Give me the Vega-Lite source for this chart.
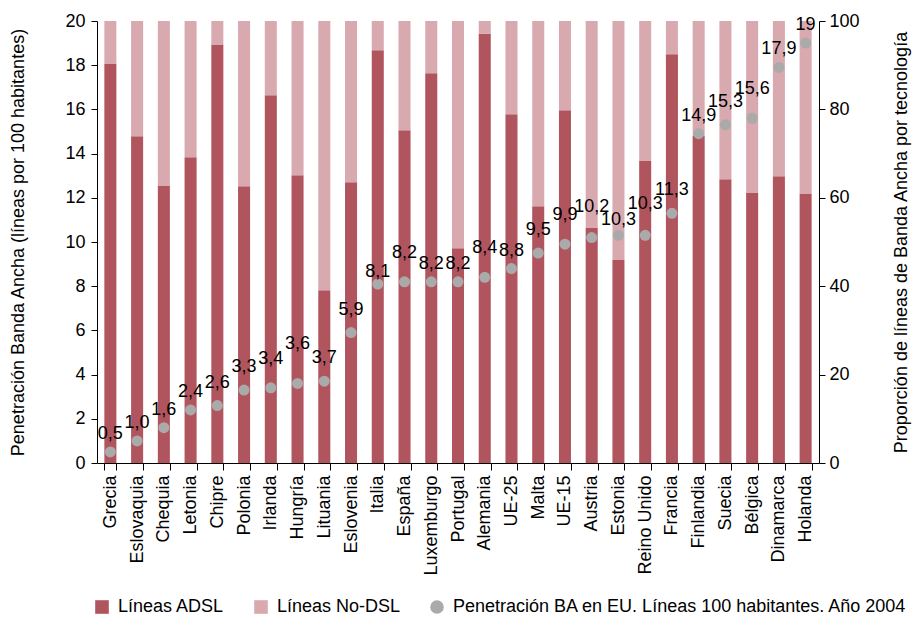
{
  "$schema": "https://vega.github.io/schema/vega-lite/v6.json",
  "autosize": {"type": "none"},
  "padding": {"left": 97, "top": 21, "right": 94, "bottom": 155},
  "width": 722,
  "height": 442,
  "background": "white",
  "config": {
    "font": "Liberation Sans",
    "view": {"stroke": null},
    "axis": {
      "labelFont": "Liberation Sans",
      "labelFontSize": 18,
      "labelColor": "black",
      "titleFont": "Liberation Sans",
      "titleFontSize": 18,
      "titleFontWeight": "normal",
      "titleColor": "black",
      "domainColor": "black",
      "tickColor": "black",
      "grid": false
    },
    "legend": {
      "labelFont": "Liberation Sans",
      "labelFontSize": 18,
      "labelColor": "black"
    }
  },
  "datasets": {
    "barras": [
      {"pais": "Grecia", "serie": "Líneas ADSL", "valor": 90.4},
      {"pais": "Grecia", "serie": "Líneas No-DSL", "valor": 9.6},
      {"pais": "Eslovaquia", "serie": "Líneas ADSL", "valor": 73.9},
      {"pais": "Eslovaquia", "serie": "Líneas No-DSL", "valor": 26.1},
      {"pais": "Chequia", "serie": "Líneas ADSL", "valor": 62.8},
      {"pais": "Chequia", "serie": "Líneas No-DSL", "valor": 37.2},
      {"pais": "Letonia", "serie": "Líneas ADSL", "valor": 69.2},
      {"pais": "Letonia", "serie": "Líneas No-DSL", "valor": 30.8},
      {"pais": "Chipre", "serie": "Líneas ADSL", "valor": 94.7},
      {"pais": "Chipre", "serie": "Líneas No-DSL", "valor": 5.3},
      {"pais": "Polonia", "serie": "Líneas ADSL", "valor": 62.6},
      {"pais": "Polonia", "serie": "Líneas No-DSL", "valor": 37.4},
      {"pais": "Irlanda", "serie": "Líneas ADSL", "valor": 83.2},
      {"pais": "Irlanda", "serie": "Líneas No-DSL", "valor": 16.8},
      {"pais": "Hungría", "serie": "Líneas ADSL", "valor": 65.1},
      {"pais": "Hungría", "serie": "Líneas No-DSL", "valor": 34.9},
      {"pais": "Lituania", "serie": "Líneas ADSL", "valor": 39.1},
      {"pais": "Lituania", "serie": "Líneas No-DSL", "valor": 60.9},
      {"pais": "Eslovenia", "serie": "Líneas ADSL", "valor": 63.5},
      {"pais": "Eslovenia", "serie": "Líneas No-DSL", "valor": 36.5},
      {"pais": "Italia", "serie": "Líneas ADSL", "valor": 93.4},
      {"pais": "Italia", "serie": "Líneas No-DSL", "valor": 6.6},
      {"pais": "España", "serie": "Líneas ADSL", "valor": 75.3},
      {"pais": "España", "serie": "Líneas No-DSL", "valor": 24.7},
      {"pais": "Luxemburgo", "serie": "Líneas ADSL", "valor": 88.2},
      {"pais": "Luxemburgo", "serie": "Líneas No-DSL", "valor": 11.8},
      {"pais": "Portugal", "serie": "Líneas ADSL", "valor": 48.6},
      {"pais": "Portugal", "serie": "Líneas No-DSL", "valor": 51.4},
      {"pais": "Alemania", "serie": "Líneas ADSL", "valor": 97.1},
      {"pais": "Alemania", "serie": "Líneas No-DSL", "valor": 2.9},
      {"pais": "UE-25", "serie": "Líneas ADSL", "valor": 78.9},
      {"pais": "UE-25", "serie": "Líneas No-DSL", "valor": 21.1},
      {"pais": "Malta", "serie": "Líneas ADSL", "valor": 58.1},
      {"pais": "Malta", "serie": "Líneas No-DSL", "valor": 41.9},
      {"pais": "UE-15", "serie": "Líneas ADSL", "valor": 79.8},
      {"pais": "UE-15", "serie": "Líneas No-DSL", "valor": 20.2},
      {"pais": "Austria", "serie": "Líneas ADSL", "valor": 53.3},
      {"pais": "Austria", "serie": "Líneas No-DSL", "valor": 46.7},
      {"pais": "Estonia", "serie": "Líneas ADSL", "valor": 45.9},
      {"pais": "Estonia", "serie": "Líneas No-DSL", "valor": 54.1},
      {"pais": "Reino Unido", "serie": "Líneas ADSL", "valor": 68.3},
      {"pais": "Reino Unido", "serie": "Líneas No-DSL", "valor": 31.7},
      {"pais": "Francia", "serie": "Líneas ADSL", "valor": 92.5},
      {"pais": "Francia", "serie": "Líneas No-DSL", "valor": 7.5},
      {"pais": "Finlandia", "serie": "Líneas ADSL", "valor": 74.0},
      {"pais": "Finlandia", "serie": "Líneas No-DSL", "valor": 26.0},
      {"pais": "Suecia", "serie": "Líneas ADSL", "valor": 64.2},
      {"pais": "Suecia", "serie": "Líneas No-DSL", "valor": 35.8},
      {"pais": "Bélgica", "serie": "Líneas ADSL", "valor": 61.2},
      {"pais": "Bélgica", "serie": "Líneas No-DSL", "valor": 38.8},
      {"pais": "Dinamarca", "serie": "Líneas ADSL", "valor": 64.9},
      {"pais": "Dinamarca", "serie": "Líneas No-DSL", "valor": 35.1},
      {"pais": "Holanda", "serie": "Líneas ADSL", "valor": 61.0},
      {"pais": "Holanda", "serie": "Líneas No-DSL", "valor": 39.0}
    ],
    "penetracion": [
      {"pais": "Grecia", "pen": 0.5, "etiqueta": "0,5"},
      {"pais": "Eslovaquia", "pen": 1.0, "etiqueta": "1,0"},
      {"pais": "Chequia", "pen": 1.6, "etiqueta": "1,6"},
      {"pais": "Letonia", "pen": 2.4, "etiqueta": "2,4"},
      {"pais": "Chipre", "pen": 2.6, "etiqueta": "2,6"},
      {"pais": "Polonia", "pen": 3.3, "etiqueta": "3,3"},
      {"pais": "Irlanda", "pen": 3.4, "etiqueta": "3,4"},
      {"pais": "Hungría", "pen": 3.6, "etiqueta": "3,6"},
      {"pais": "Lituania", "pen": 3.7, "etiqueta": "3,7"},
      {"pais": "Eslovenia", "pen": 5.9, "etiqueta": "5,9"},
      {"pais": "Italia", "pen": 8.1, "etiqueta": "8,1"},
      {"pais": "España", "pen": 8.2, "etiqueta": "8,2"},
      {"pais": "Luxemburgo", "pen": 8.2, "etiqueta": "8,2"},
      {"pais": "Portugal", "pen": 8.2, "etiqueta": "8,2"},
      {"pais": "Alemania", "pen": 8.4, "etiqueta": "8,4"},
      {"pais": "UE-25", "pen": 8.8, "etiqueta": "8,8"},
      {"pais": "Malta", "pen": 9.5, "etiqueta": "9,5"},
      {"pais": "UE-15", "pen": 9.9, "etiqueta": "9,9"},
      {"pais": "Austria", "pen": 10.2, "etiqueta": "10,2"},
      {"pais": "Estonia", "pen": 10.3, "etiqueta": "10,3"},
      {"pais": "Reino Unido", "pen": 10.3, "etiqueta": "10,3"},
      {"pais": "Francia", "pen": 11.3, "etiqueta": "11,3"},
      {"pais": "Finlandia", "pen": 14.9, "etiqueta": "14,9"},
      {"pais": "Suecia", "pen": 15.3, "etiqueta": "15,3"},
      {"pais": "Bélgica", "pen": 15.6, "etiqueta": "15,6"},
      {"pais": "Dinamarca", "pen": 17.9, "etiqueta": "17,9"},
      {"pais": "Holanda", "pen": 19.0, "etiqueta": "19"}
    ]
  },
  "encoding": {
    "x": {
      "field": "pais",
      "type": "nominal",
      "sort": null,
      "scale": {"paddingInner": 0.55, "paddingOuter": 0.275},
      "axis": {
        "title": null,
        "labelAngle": -90,
        "tickBand": "extent",
        "tickSize": 7,
        "labelPadding": 5,
        "domainColor": "black"
      }
    }
  },
  "layer": [
    {
      "data": {"name": "barras"},
      "mark": {"type": "bar"},
      "encoding": {
        "y": {
          "field": "valor",
          "type": "quantitative",
          "stack": "zero",
          "scale": {"domain": [0, 100], "nice": false},
          "axis": {
            "orient": "right",
            "title": "Proporción de líneas de Banda Ancha por tecnología",
            "values": [0, 20, 40, 60, 80, 100],
            "tickSize": 6,
            "labelPadding": 4,
            "titleAngle": -90,
            "titleAlign": "center",
            "titleBaseline": "middle",
            "titleX": 82,
            "titleY": 221
          }
        },
        "color": {
          "field": "serie",
          "type": "nominal",
          "scale": {
            "domain": ["Líneas ADSL", "Líneas No-DSL", "Penetración BA en EU. Líneas 100 habitantes. Año 2004"],
            "range": ["#B0545E", "#D9A9B0", "#AAAAAA"]
          },
          "legend": {
            "title": null,
            "orient": "none",
            "direction": "horizontal",
            "legendX": -4,
            "legendY": 577,
            "padding": 0,
            "symbolSize": 185,
            "symbolStrokeWidth": 0,
            "labelOffset": 7,
            "columnPadding": 27,
            "labelLimit": 600,
            "encode": {
              "symbols": {
                "update": {
                  "shape": {"signal": "datum.value === 'Penetración BA en EU. Líneas 100 habitantes. Año 2004' ? 'circle' : 'square'"}
                }
              }
            }
          }
        },
        "order": {"field": "serie", "sort": "ascending"}
      }
    },
    {
      "data": {"name": "penetracion"},
      "layer": [
        {
          "mark": {"type": "point", "filled": true, "opacity": 1, "size": 121, "color": "#AAAAAA"},
          "encoding": {
            "y": {
              "field": "pen",
              "type": "quantitative",
              "scale": {"domain": [0, 20], "nice": false},
              "axis": {
                "orient": "left",
                "title": "Penetración Banda Ancha (líneas por 100 habitantes)",
                "values": [0, 2, 4, 6, 8, 10, 12, 14, 16, 18, 20],
                "tickSize": 6,
                "labelPadding": 6,
                "titleAngle": -90,
                "titleAlign": "center",
                "titleBaseline": "middle",
                "titleX": -79,
                "titleY": 221
              }
            }
          }
        },
        {
          "transform": [{"filter": "indexof(['Italia'], datum.pais) >= 0"}],
          "mark": {"type": "text", "fontSize": 18, "color": "black", "baseline": "middle", "dy": -12},
          "encoding": {
            "y": {"field": "pen", "type": "quantitative"},
            "text": {"field": "etiqueta", "type": "nominal"}
          }
        },
        {
          "transform": [{"filter": "indexof(['Estonia'], datum.pais) >= 0"}],
          "mark": {"type": "text", "fontSize": 18, "color": "black", "baseline": "middle", "dy": -15},
          "encoding": {
            "y": {"field": "pen", "type": "quantitative"},
            "text": {"field": "etiqueta", "type": "nominal"}
          }
        },
        {
          "transform": [{"filter": "indexof(['Grecia', 'Eslovaquia', 'Chequia', 'Letonia', 'Luxemburgo', 'Portugal', 'UE-25', 'Finlandia', 'Dinamarca', 'Holanda'], datum.pais) >= 0"}],
          "mark": {"type": "text", "fontSize": 18, "color": "black", "baseline": "middle", "dy": -18},
          "encoding": {
            "y": {"field": "pen", "type": "quantitative"},
            "text": {"field": "etiqueta", "type": "nominal"}
          }
        },
        {
          "transform": [{"filter": "indexof(['Chipre', 'Polonia', 'Lituania', 'Eslovenia', 'Malta', 'Francia', 'Suecia'], datum.pais) >= 0"}],
          "mark": {"type": "text", "fontSize": 18, "color": "black", "baseline": "middle", "dy": -23},
          "encoding": {
            "y": {"field": "pen", "type": "quantitative"},
            "text": {"field": "etiqueta", "type": "nominal"}
          }
        },
        {
          "transform": [{"filter": "indexof(['Irlanda', 'España', 'Alemania', 'UE-15', 'Bélgica'], datum.pais) >= 0"}],
          "mark": {"type": "text", "fontSize": 18, "color": "black", "baseline": "middle", "dy": -29},
          "encoding": {
            "y": {"field": "pen", "type": "quantitative"},
            "text": {"field": "etiqueta", "type": "nominal"}
          }
        },
        {
          "transform": [{"filter": "indexof(['Austria', 'Reino Unido'], datum.pais) >= 0"}],
          "mark": {"type": "text", "fontSize": 18, "color": "black", "baseline": "middle", "dy": -31},
          "encoding": {
            "y": {"field": "pen", "type": "quantitative"},
            "text": {"field": "etiqueta", "type": "nominal"}
          }
        },
        {
          "transform": [{"filter": "indexof(['Hungría'], datum.pais) >= 0"}],
          "mark": {"type": "text", "fontSize": 18, "color": "black", "baseline": "middle", "dy": -39},
          "encoding": {
            "y": {"field": "pen", "type": "quantitative"},
            "text": {"field": "etiqueta", "type": "nominal"}
          }
        }
      ]
    }
  ],
  "resolve": {"scale": {"y": "independent"}}
}
